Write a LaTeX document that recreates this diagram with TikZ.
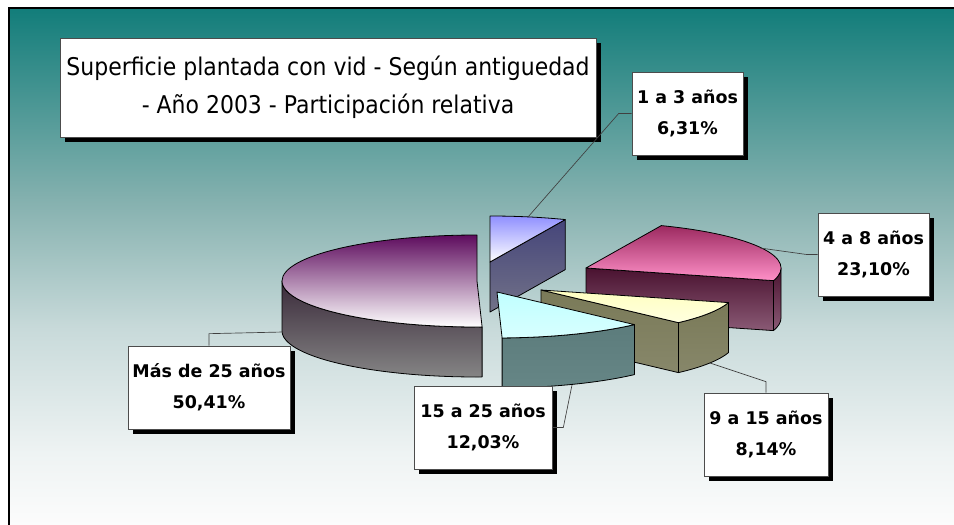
\documentclass[tikz,border=0pt]{standalone}
\usepackage{fontspec}
\setmainfont{DejaVu Sans}
\newfontfamily\titlefont[FakeStretch=0.9]{DejaVu Sans}
\usetikzlibrary{shadows}

\definecolor{bgT}{RGB}{18,125,122}
\definecolor{bgA}{RGB}{135,178,176}
\definecolor{bgB}{RGB}{200,218,218}
\definecolor{bgC}{RGB}{238,243,243}
\definecolor{bgD}{RGB}{252,252,252}
\pgfdeclareverticalshading{fondo}{100bp}{color(0bp)=(bgD); color(25bp)=(bgD); color(32bp)=(bgC); color(44bp)=(bgB); color(56bp)=(bgA); color(75bp)=(bgT); color(100bp)=(bgT)}

\begin{document}
\begin{tikzpicture}[x=0.75pt, y=-0.75pt,
  pie/.style={x radius=195, y radius=46},
  borde/.style={draw=black, line width=0.6pt, line join=round},
  guia/.style={draw=black!75, line width=0.5pt},
  caja/.style={draw=black!70, fill=white, line width=0.5pt, align=center,
    drop shadow={shadow xshift=3.5pt, shadow yshift=-3.5pt, fill=black, opacity=1},
    minimum height=62.25pt, inner xsep=2pt,
    font=\fontsize{13.1}{23}\selectfont\bfseries}]
\useasboundingbox (0,0) rectangle (954,525);

\shade[shading=fondo] (9,8) rectangle (954,525);
\draw[line width=1.5pt] (9,525) -- (9,8) -- (954,8);

\draw[borde, pie, top color={rgb,255:red,58;green,42;blue,58}, bottom color={rgb,255:red,133;green,133;blue,133}] (282,281) arc[start angle=-180, end angle=-271.5] -- ++(0,50) arc[start angle=-271.5, end angle=-180] -- cycle;
\draw[borde, pie, top color={rgb,255:red,94;green,12;blue,94}, bottom color=white] (477,281) -- (477,235) arc[start angle=-90, end angle=-271.5] -- cycle;

\draw[borde, top color={rgb,255:red,69;green,69;blue,122}, bottom color={rgb,255:red,114;green,114;blue,136}] (490,262) -- (565.3,219.6) -- ++(0,50) -- (490,312) -- cycle;
\draw[borde, pie, top color={rgb,255:red,144;green,144;blue,255}, bottom color=white] (490,262) -- (490,216) arc[start angle=-90, end angle=-67.3] -- cycle;

\draw[borde, pie, top color={rgb,255:red,74;green,18;blue,48}, bottom color={rgb,255:red,138;green,90;blue,117}] (781,268) arc[start angle=0, end angle=15.9] -- ++(0,50) arc[start angle=15.9, end angle=0] -- cycle;
\draw[borde, top color={rgb,255:red,74;green,18;blue,48}, bottom color={rgb,255:red,138;green,90;blue,117}] (586,268) -- (773.5,280.6) -- ++(0,50) -- (586,318) -- cycle;
\draw[borde, pie, top color={rgb,255:red,156;green,42;blue,96}, bottom color={rgb,255:red,255;green,144;blue,200}] (586,268) -- (661.3,225.6) arc[start angle=-67.3, end angle=15.9] -- cycle;

\draw[borde, pie, top color={rgb,255:red,122;green,122;blue,88}, bottom color={rgb,255:red,135;green,135;blue,106}] (728.5,302.6) arc[start angle=15.9, end angle=45.2] -- ++(0,50) arc[start angle=45.2, end angle=15.9] -- cycle;
\draw[borde, top color={rgb,255:red,122;green,122;blue,88}, bottom color={rgb,255:red,135;green,135;blue,106}] (541,290) -- (678.4,322.6) -- ++(0,50) -- (541,340) -- cycle;
\draw[borde, pie, top color={rgb,255:red,255;green,255;blue,192}, bottom color={rgb,255:red,255;green,255;blue,224}] (541,290) -- (728.5,302.6) arc[start angle=15.9, end angle=45.2] -- cycle;

\draw[borde, pie, top color={rgb,255:red,92;green,124;blue,124}, bottom color={rgb,255:red,102;green,134;blue,134}] (634.4,324.6) arc[start angle=45.2, end angle=88.5] -- ++(0,50) arc[start angle=88.5, end angle=45.2] -- cycle;
\draw[borde, pie, top color={rgb,255:red,192;green,255;blue,255}, bottom color={rgb,255:red,216;green,255;blue,255}] (497,292) -- (634.4,324.6) arc[start angle=45.2, end angle=88.5] -- cycle;

\node[caja, minimum width=402pt, minimum height=74.25pt, font=\titlefont\fontsize{18.3}{28.5}\selectfont] (titulo) at (328,87.5) {Superficie plantada con vid - Según antiguedad\\- Año 2003 - Participación relativa};

\node[caja, minimum width=83.25pt] (l13) at (687.5,113.5) {1 a 3 años\\6,31\%};
\node[caja, minimum width=83.25pt] (l48) at (873.5,254.5) {4 a 8 años\\23,10\%};
\node[caja, minimum width=93pt] (l915) at (766,434.5) {9 a 15 años\\8,14\%};
\node[caja, minimum width=103.5pt] (l1525) at (483,427.5) {15 a 25 años\\12,03\%};
\node[caja, minimum width=121.5pt] (l25) at (209,387.5) {Más de 25 años\\50,41\%};

\coordinate (p13) at (528,217);
\coordinate (p48) at (760,248);
\coordinate (p915) at (710,363);
\coordinate (p1525) at (572,385);
\coordinate (p25) at (283,332);

\draw[guia] (l13.west) -- ++(-13,0) -- (p13);
\draw[guia] (l48.west) -- ++(-11,0) -- (p48);
\draw[guia] (l915.north) -- ++(0,-11) -- (p915);
\draw[guia] (l1525.east) -- ++(11,0) -- (p1525);
\draw[guia] (l25.north) -- ++(0,-12) -- (p25);
\end{tikzpicture}
\end{document}
